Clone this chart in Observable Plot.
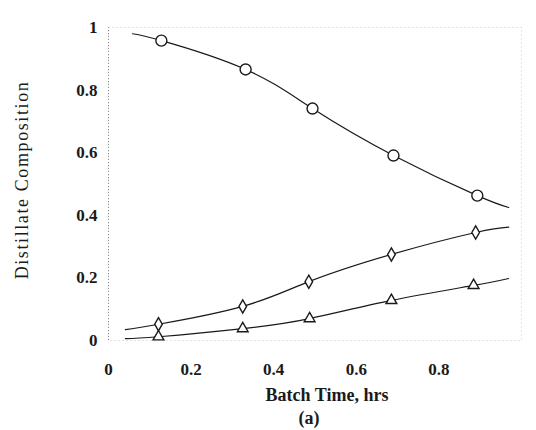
<!DOCTYPE html>
<html>
<head>
<meta charset="utf-8">
<script src="https://cdn.jsdelivr.net/npm/d3@7"></script>
<script src="https://cdn.jsdelivr.net/npm/@observablehq/plot@0.6"></script>
<style>
  html, body { margin: 0; padding: 0; background: #fff; }
  svg { font-family: "Liberation Serif", "DejaVu Serif", serif; }
</style>
</head>
<body>
<div id="chart"></div>
<script>
// ---- data ----
const xTicks = [0, 0.2, 0.4, 0.6, 0.8];
const yTicks = [0, 0.2, 0.4, 0.6, 0.8, 1];

// curve 1 (circles)
const circleCurveX = [0.058, 0.128, 0.332, 0.494, 0.690, 0.893, 0.969];
const circleCurveY = [0.980, 0.958, 0.866, 0.741, 0.591, 0.463, 0.425];
const circleX = [0.128, 0.332, 0.494, 0.690, 0.893];
const circleY = [0.958, 0.866, 0.741, 0.591, 0.463];

// curve 2 (diamonds)
const diamondCurveX = [0.041, 0.121, 0.325, 0.485, 0.685, 0.889, 0.969];
const diamondCurveY = [0.035, 0.052, 0.109, 0.188, 0.275, 0.345, 0.362];
const diamondX = [0.121, 0.325, 0.485, 0.685, 0.889];
const diamondY = [0.052, 0.109, 0.188, 0.275, 0.345];

// curve 3 (triangles)
const triangleCurveX = [0.041, 0.121, 0.325, 0.487, 0.685, 0.884, 0.969];
const triangleCurveY = [0.006, 0.012, 0.038, 0.070, 0.128, 0.176, 0.198];
const triangleX = [0.121, 0.325, 0.487, 0.685, 0.884];
const triangleY = [0.012, 0.038, 0.070, 0.128, 0.176];

const xLabel = ["Batch Time, hrs"];
const yLabel = ["Distillate Composition"];
const caption = ["(a)"];

const zip = (xs, ys) => xs.map((x, i) => ({x, y: ys[i]}));
const ink = "#1a1a1a";

const chart = Plot.plot({
  width: 536,
  height: 430,
  marginLeft: 108,
  marginRight: 15,
  marginTop: 27,
  marginBottom: 90,
  style: {fontFamily: "'Liberation Serif', serif", background: "#fff"},
  x: {domain: [0, 1]},
  y: {domain: [0, 1]},
  marks: [
    Plot.frame({stroke: "#c8c8c8", strokeDasharray: "1 3"}),
    Plot.ruleX([0], {stroke: "#888", strokeDasharray: "1 2"}),
    Plot.axisX({ticks: xTicks, tickFormat: d => String(d), tickSize: 0, tickPadding: 22,
                fontSize: 17, fontWeight: "bold", fill: ink, label: null}),
    Plot.axisY({ticks: yTicks, tickFormat: d => String(d), tickSize: 0, tickPadding: 11,
                fontSize: 17, fontWeight: "bold", fill: ink, label: null}),
    Plot.line(zip(circleCurveX, circleCurveY), {x: "x", y: "y", curve: "natural", stroke: ink, strokeWidth: 1.2}),
    Plot.line(zip(diamondCurveX, diamondCurveY), {x: "x", y: "y", curve: "natural", stroke: ink, strokeWidth: 1.2}),
    Plot.line(zip(triangleCurveX, triangleCurveY), {x: "x", y: "y", curve: "natural", stroke: ink, strokeWidth: 1.2}),
    Plot.dot(zip(circleX, circleY), {x: "x", y: "y", r: 5.5, stroke: ink, fill: "white", strokeWidth: 1.4}),
    Plot.dot(zip(diamondX, diamondY), {x: "x", y: "y", symbol: "diamond", r: 4, stroke: ink, fill: "white", strokeWidth: 1.4}),
    Plot.dot(zip(triangleX, triangleY), {x: "x", y: "y", symbol: "triangle", r: 4, stroke: ink, fill: "white", strokeWidth: 1.4}),
    Plot.text(xLabel, {frameAnchor: "bottom", dx: 12, dy: 55, lineAnchor: "middle",
                       fontSize: 18, fontWeight: "bold", fill: ink}),
    Plot.text(caption, {frameAnchor: "bottom", dx: -6, dy: 78, lineAnchor: "middle",
                        fontSize: 18, fontWeight: "bold", fill: ink}),
    Plot.text(yLabel, {frameAnchor: "left", rotate: -90, dx: -86, dy: -4, lineAnchor: "middle",
                       textAnchor: "middle", fontSize: 18, fill: ink, className: "ylabel"})
  ]
});
// widen the y label's letter spacing to the length it has in the reference
d3.select(chart).selectAll(".ylabel text")
  .attr("letter-spacing", "1.6px");
document.getElementById("chart").appendChild(chart);
</script>
</body>
</html>
